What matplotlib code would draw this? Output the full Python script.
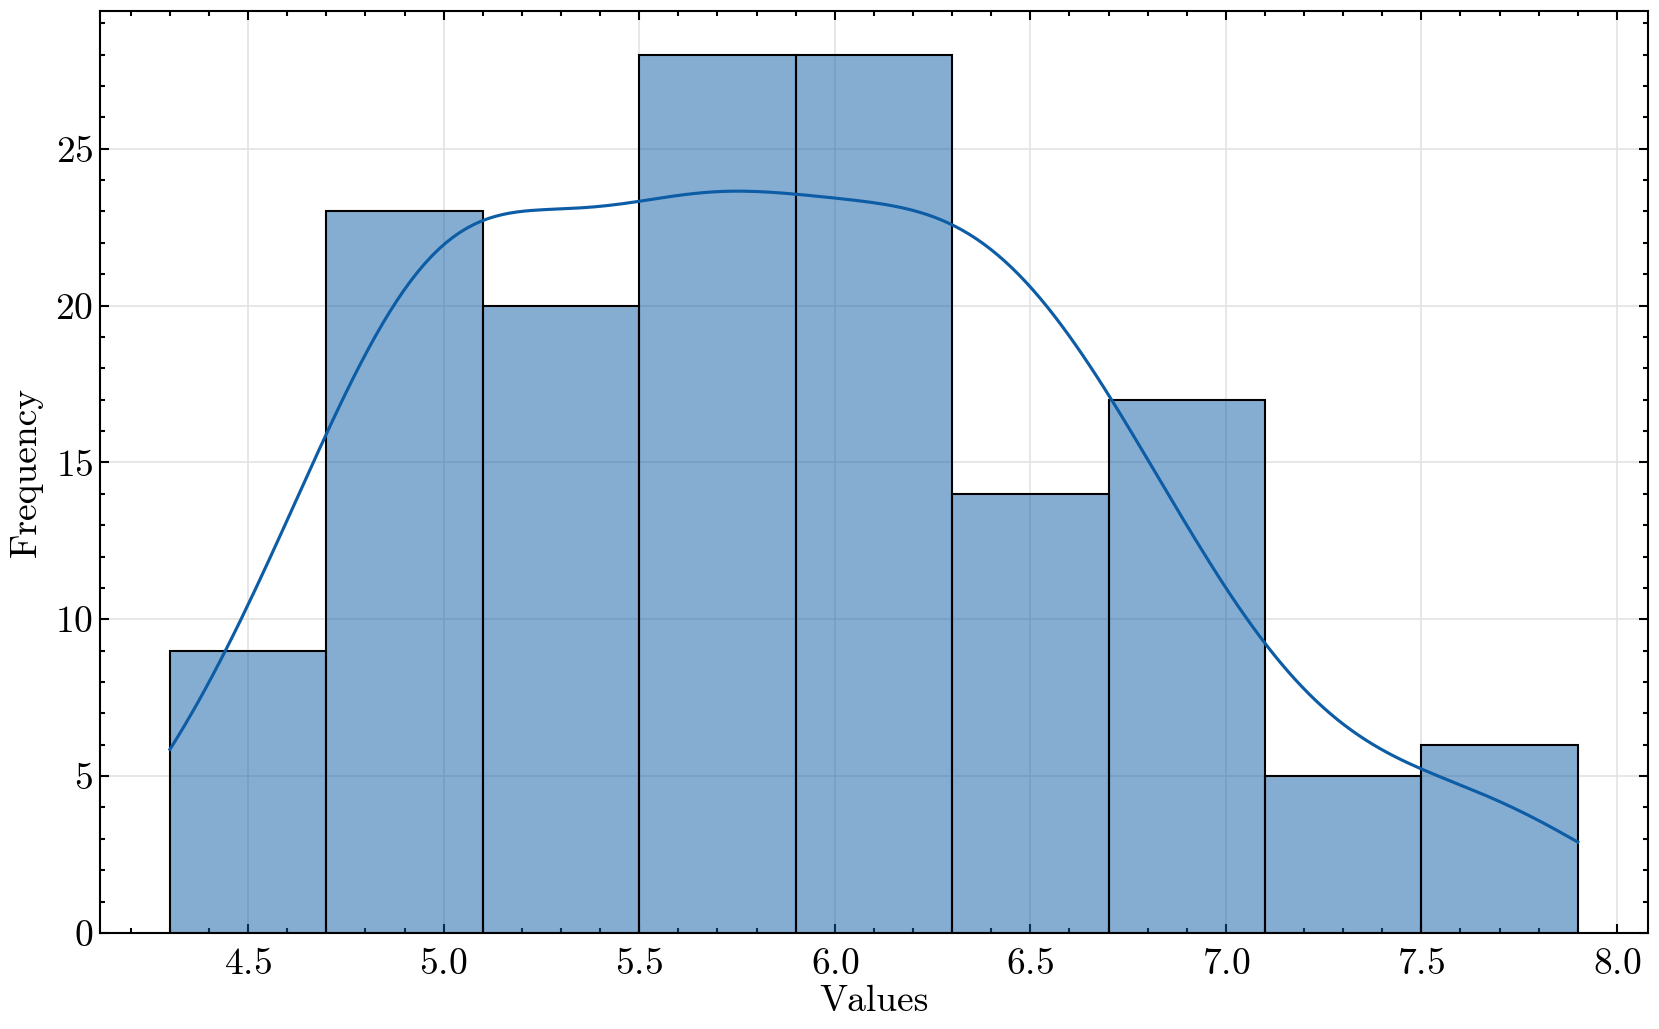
import numpy as np
import matplotlib
matplotlib.use("Agg")
import matplotlib.pyplot as plt
import seaborn as sns
from matplotlib.ticker import MultipleLocator

# Iris sepal length (cm), 150 samples
setosa = [5.1, 4.9, 4.7, 4.6, 5.0, 5.4, 4.6, 5.0, 4.4, 4.9, 5.4, 4.8, 4.8, 4.3, 5.8, 5.7, 5.4, 5.1, 5.7, 5.1,
          5.4, 5.1, 4.6, 5.1, 4.8, 5.0, 5.0, 5.2, 5.2, 4.7, 4.8, 5.4, 5.2, 5.5, 4.9, 5.0, 5.5, 4.9, 4.4, 5.1,
          5.0, 4.5, 4.4, 5.0, 5.1, 4.8, 5.1, 4.6, 5.3, 5.0]
versicolor = [7.0, 6.4, 6.9, 5.5, 6.5, 5.7, 6.3, 4.9, 6.6, 5.2, 5.0, 5.9, 6.0, 6.1, 5.6, 6.7, 5.6, 5.8, 6.2, 5.6,
              5.9, 6.1, 6.3, 6.1, 6.4, 6.6, 6.8, 6.7, 6.0, 5.7, 5.5, 5.5, 5.8, 6.0, 5.4, 6.0, 6.7, 6.3, 5.6, 5.5,
              5.5, 6.1, 5.8, 5.0, 5.6, 5.7, 5.7, 6.2, 5.1, 5.7]
virginica = [6.3, 5.8, 7.1, 6.3, 6.5, 7.6, 4.9, 7.3, 6.7, 7.2, 6.5, 6.4, 6.8, 5.7, 5.8, 6.4, 6.5, 7.7, 7.7, 6.0,
             6.9, 5.6, 7.7, 6.3, 6.7, 7.2, 6.2, 6.1, 6.4, 7.2, 7.4, 7.9, 6.4, 6.3, 6.1, 7.7, 6.3, 6.4, 6.0, 6.9,
             6.7, 6.9, 5.8, 6.8, 6.7, 6.7, 6.3, 6.5, 6.2, 5.9]
values = np.array(setosa + versicolor + virginica)
n_bins = 9
x_label = "Values"
y_label = "Frequency"

plt.rcParams.update({
    "font.family": "serif",
    "font.serif": ["cmr10"],
    "mathtext.fontset": "cm",
    "axes.formatter.use_mathtext": True,
    "font.size": 9,
    "axes.linewidth": 0.5,
    "xtick.direction": "in",
    "ytick.direction": "in",
    "xtick.top": True,
    "ytick.right": True,
    "xtick.major.size": 2.2,
    "ytick.major.size": 2.2,
    "xtick.minor.size": 1.2,
    "ytick.minor.size": 1.2,
    "xtick.major.width": 0.5,
    "ytick.major.width": 0.5,
    "xtick.minor.width": 0.5,
    "ytick.minor.width": 0.5,
    "xtick.minor.visible": True,
    "ytick.minor.visible": True,
})

color = "#0C5DA5"
fig = plt.figure(figsize=(1659 / 300, 1029 / 300), dpi=300)
ax = fig.add_axes([0.0600, 0.0933, 0.9335, 0.8964])
ax.set_axisbelow(True)
ax.grid(True, which="major", color="#e3e3e3", linewidth=0.4)
sns.histplot(values, bins=n_bins, kde=True, color=color, alpha=0.5,
             edgecolor="black", linewidth=0.5, ax=ax,
             line_kws={"linewidth": 0.75})
ax.lines[0].set_color(color)
ax.set_xlabel(x_label, labelpad=1)
ax.set_ylabel(y_label, labelpad=3)
ax.xaxis.set_minor_locator(MultipleLocator(0.1))
ax.yaxis.set_minor_locator(MultipleLocator(1))
ax.yaxis.set_major_locator(MultipleLocator(5))
ax.tick_params(which="both", top=True, right=True, direction="in")
ax.tick_params(axis="y", which="major", pad=1.5)
ax.tick_params(axis="x", which="major", pad=3.5)
fig.savefig("out.png", dpi=300)
